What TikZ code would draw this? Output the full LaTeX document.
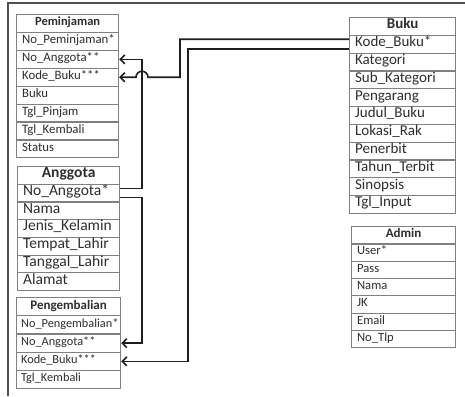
\documentclass[tikz,border=0pt]{standalone}
\usepackage{fontspec}
\setmainfont{Carlito}
\usetikzlibrary{arrows.meta}
\definecolor{txt}{HTML}{2E2E2E}
\definecolor{gridc}{HTML}{808080}
\definecolor{wire}{HTML}{1E1E1E}
\definecolor{framec}{HTML}{505050}
\begin{document}
\begin{tikzpicture}[x=1pt,y=-1pt,
  cell/.style={draw=gridc, line width=1.2pt, fill=white, anchor=north west,
    inner xsep=5.5pt, inner ysep=0pt, align=left, text=txt,
    text height=0.68em, text depth=0.2em},
  hdr/.style={cell, align=center},
  conn/.style={draw=wire, line width=1.6pt, -{Straight Barb[length=4.5pt,width=9pt,line width=1.6pt]}},
  framel/.style={draw=framec, line width=1.3pt}
]
\useasboundingbox (0,0) rectangle (465,396);
\draw[framel] (8,396) -- (8,3) -- (465,3);

% Peminjaman
\node[hdr, font=\fontsize{12.5}{14}\selectfont\bfseries, text width=91pt, minimum height=17.9pt] (pem-0) at (16,14) {Peminjaman};
\foreach \t [count=\i] in {No\_Peminjaman*, No\_Anggota**, Kode\_Buku***, Buku, Tgl\_Pinjam, Tgl\_Kembali, Status}
  \node[cell, font=\fontsize{12.8}{14}\selectfont, text width=91pt, minimum height=17.9pt] (pem-\i) at (16,{14+\i*17.9}) {\t};

% Anggota
\node[hdr, font=\fontsize{15.5}{17}\selectfont\bfseries, text width=91pt, minimum height=17.7pt] (ang-0) at (17,166) {Anggota};
\foreach \t [count=\i] in {No\_Anggota*, Nama, Jenis\_Kelamin, Tempat\_Lahir, Tanggal\_Lahir, Alamat}
  \node[cell, font=\fontsize{15.5}{17}\selectfont, text width=91pt, minimum height=17.7pt] (ang-\i) at (17,{166+\i*17.7}) {\t};

% Pengembalian
\node[hdr, font=\fontsize{13}{14}\selectfont\bfseries, text width=93pt, minimum height=18.2pt] (pen-0) at (16,297) {Pengembalian};
\foreach \t [count=\i] in {No\_Pengembalian*, No\_Anggota**, Kode\_Buku***, Tgl\_Kembali}
  \node[cell, font=\fontsize{12.3}{14}\selectfont, inner xsep=4.5pt, text width=95pt, minimum height=18.2pt] (pen-\i) at (16,{297+\i*18.2}) {\t};

% Buku
\node[hdr, font=\fontsize{15}{17}\selectfont\bfseries, text width=95pt, minimum height=17.8pt] (buku-0) at (349,17) {Buku};
\foreach \t [count=\i] in {Kode\_Buku*, Kategori, Sub\_Kategori, Pengarang, Judul\_Buku, Lokasi\_Rak, Penerbit, Tahun\_Terbit, Sinopsis, Tgl\_Input}
  \node[cell, font=\fontsize{15}{17}\selectfont, text width=95pt, minimum height=17.8pt] (buku-\i) at (349,{17+\i*17.8}) {\t};

% Admin
\node[hdr, font=\fontsize{13}{14}\selectfont\bfseries, text width=93pt, minimum height=17.3pt] (adm-0) at (351,226) {Admin};
\foreach \t [count=\i] in {User*, Pass, Nama, JK, Email, No\_Tlp}
  \node[cell, font=\fontsize{12.6}{14}\selectfont, text width=93pt, minimum height=17.3pt] (adm-\i) at (351,{226+\i*17.3}) {\t};

% lanes
\coordinate (laneA) at (142,0);
\coordinate (hopR) at (148,0);
\coordinate (laneB) at (180,0);
\coordinate (laneC) at (188,0);

% connectors
\draw[conn] ([yshift=4.5pt]ang-1.east) -| (laneA |- pem-2.east) -- (pem-2.east);
\draw[conn] ([yshift=-4.5pt]ang-1.east) -| (laneA |- pen-2.east) -- (pen-2.east);
\draw[conn] ([yshift=5pt]buku-1.west) -| (laneB |- pem-3.east) -- (hopR |- pem-3.east)
  arc[start angle=0, end angle=-180, radius=6] -- (pem-3.east);
\draw[conn] ([yshift=-5pt]buku-1.west) -| (laneC |- pen-3.east) -- (pen-3.east);
\end{tikzpicture}
\end{document}
